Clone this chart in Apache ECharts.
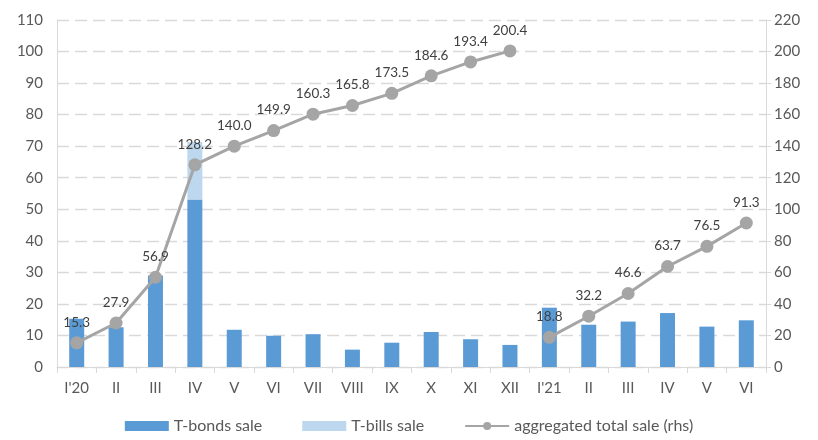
<!DOCTYPE html>
<html><head><meta charset="utf-8">
<script src="https://cdn.jsdelivr.net/npm/echarts@6/dist/echarts.min.js"></script>
<style>html,body{margin:0;padding:0;background:#fff}#c{width:818px;height:440px}</style>
</head><body><div id="c"></div>
<script>
const categories = ["I'20","II","III","IV","V","VI","VII","VIII","IX","X","XI","XII","I'21","II","III","IV","V","VI"];
const bondsSale = [15.3,12.6,29.0,53.1,11.8,9.9,10.4,5.5,7.7,11.1,8.8,7.0,18.8,13.4,14.4,17.1,12.8,14.8];
const billsSale = [0,0,0,18.2,0,0,0,0,0,0,0,0,0,0,0,0,0,0];
const aggregated2020 = [15.3,27.9,56.9,128.2,140.0,149.9,160.3,165.8,173.5,184.6,193.4,200.4,null,null,null,null,null,null];
const aggregated2021 = [null,null,null,null,null,null,null,null,null,null,null,null,18.8,32.2,46.6,63.7,76.5,91.3];
const leftTicks = [0,110,10];
const rightTicks = [0,220,20];

const font = 'Lato, "Open Sans", sans-serif';
const axisText = {color:'#595959', fontSize:15, fontFamily:font};
const lineStyleSeries = (name, data) => ({
  name, type:'line', yAxisIndex:1, data,
  symbol:'circle', symbolSize:13, connectNulls:false,
  itemStyle:{color:'#A5A5A5'}, lineStyle:{color:'#A5A5A5', width:3},
  label:{show:true, position:'top', distance:7, color:'#404040', fontSize:13.5, fontFamily:font,
    formatter:p=>p.value==null?'':Number(p.value).toFixed(1)},
  z:5
});
const chart = echarts.init(document.getElementById('c'));
chart.setOption({
  animation:false,
  grid:{left:57, right:52, top:20, bottom:73},
  legend:{bottom:1, left:'center', itemWidth:44, itemHeight:10, itemGap:40,
    textStyle:{color:'#595959', fontSize:16, fontFamily:font},
    data:[{name:'T-bonds sale', icon:'rect'},{name:'T-bills sale', icon:'rect'},{name:'aggregated total sale (rhs)'}]},
  xAxis:{type:'category', data:categories, boundaryGap:true,
    axisLine:{lineStyle:{color:'#D9D9D9'}},
    axisTick:{show:true, alignWithLabel:false, length:6, lineStyle:{color:'#D9D9D9'}},
    axisLabel:Object.assign({margin:14}, axisText)},
  yAxis:[
    {type:'value', min:leftTicks[0], max:leftTicks[1], interval:leftTicks[2],
     axisLine:{show:true, lineStyle:{color:'#D9D9D9'}},
     axisLabel:Object.assign({margin:14}, axisText),
     splitLine:{lineStyle:{color:'#D9D9D9', type:[12,6], width:1.3}}},
    {type:'value', min:rightTicks[0], max:rightTicks[1], interval:rightTicks[2],
     axisLine:{show:true, lineStyle:{color:'#D9D9D9'}},
     axisTick:{show:true, length:5, lineStyle:{color:'#D9D9D9'}},
     axisLabel:Object.assign({margin:8}, axisText),
     splitLine:{show:false}}
  ],
  series:[
    {name:'T-bonds sale', type:'bar', stack:'s', data:bondsSale, barWidth:15, itemStyle:{color:'#5B9BD5'}},
    {name:'T-bills sale', type:'bar', stack:'s', data:billsSale, barWidth:15, itemStyle:{color:'#BDD7EE'}},
    lineStyleSeries('aggregated total sale (rhs)', aggregated2020),
    lineStyleSeries('aggregated total sale (rhs)', aggregated2021)
  ]
});
</script></body></html>
